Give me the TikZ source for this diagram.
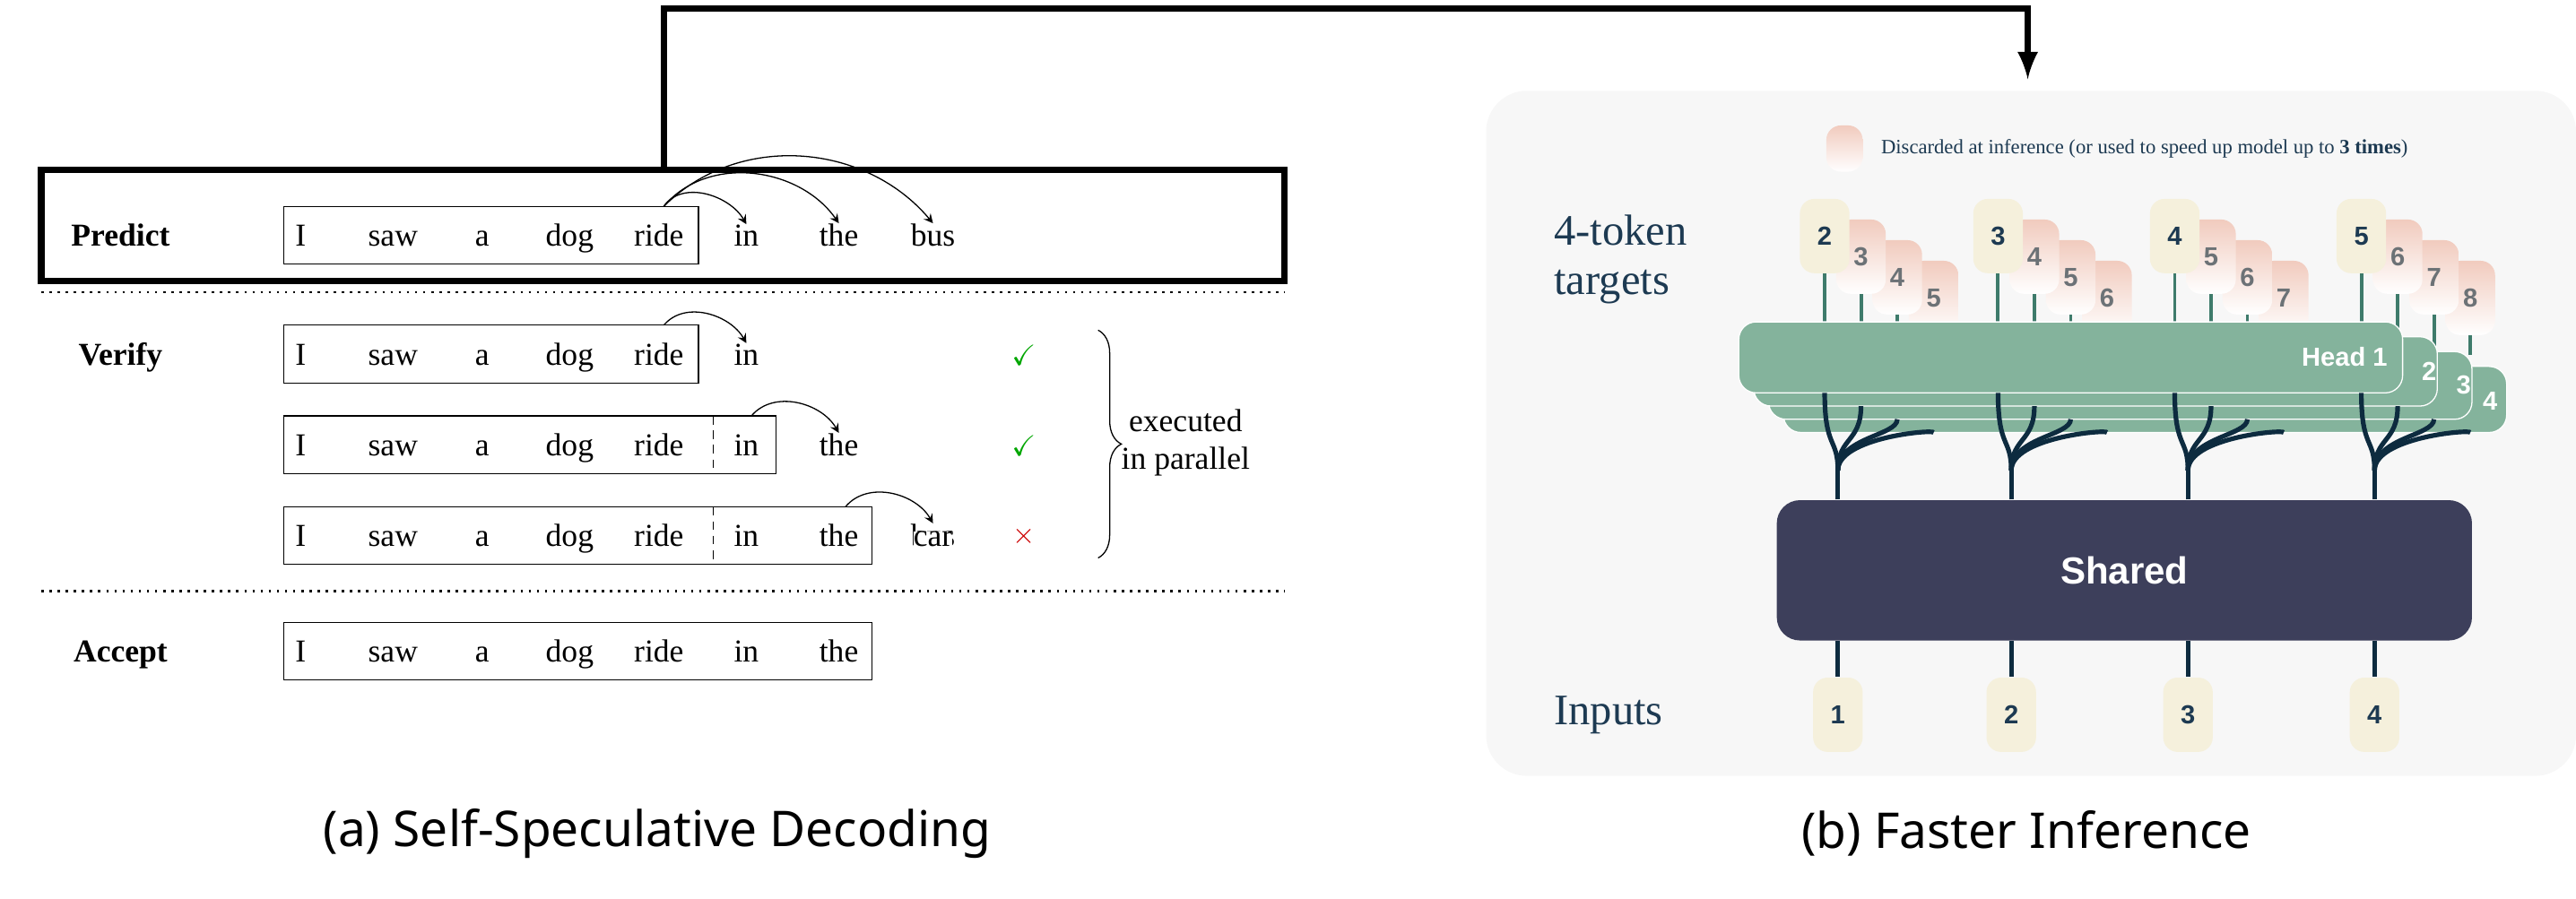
\documentclass[tikz,border=0pt]{standalone}
\usepackage{fontspec}
\setmainfont{Liberation Serif}
\newfontfamily\capfont{Noto Sans}
\newfontfamily\numfont{Liberation Sans}
\usepackage{amssymb}
\usetikzlibrary{arrows, positioning, decorations.pathreplacing}
\definecolor{headgreen}{HTML}{84B39C}
\definecolor{shareddark}{HTML}{3D3F5B}
\definecolor{wire}{HTML}{0D2B3F}
\definecolor{tealwire}{HTML}{3E7B6B}
\definecolor{cream}{HTML}{F5F0DC}
\definecolor{blush}{HTML}{F1CBBE}
\definecolor{panel}{HTML}{F7F7F7}
\definecolor{navy}{HTML}{1D3A52}
\tikzset{
    word/.style={font=\fontsize{11}{12}\selectfont, inner sep=0pt, anchor=base}, % one token of the sentence
    stage/.style={font=\bfseries\fontsize{11}{12}\selectfont, anchor=base},
    tok/.style={rounded corners=5pt, minimum width=30*0.02cm, minimum height=45*0.02cm, inner sep=0pt,
        font=\numfont\bfseries\fontsize{9}{9}\selectfont, text=navy},
    keep/.style={tok, fill=cream},
    drop/.style={tok, top color=blush, bottom color=white, text=gray!80!navy},
    head/.style={fill=headgreen, draw=white, line width=0.4pt, rounded corners=6pt},
    hop/.style={->, >=stealth, thin},
}
\begin{document}
\begin{tikzpicture}[x=0.02cm, y=-0.02cm]
\useasboundingbox (0,0) rectangle (1560,544.6);

% ---- (a) self-speculative decoding ----
\draw[line width=2.2pt] (25,103) rectangle (778,170);
\coordinate (boxtop) at (402,103);
\draw[dotted, thick] (25,177) -- (778,177);
\draw[dotted, thick] (25,358) -- (778,358);

\node[stage] (predict) at (73,149) {Predict};
\node[stage] (verify) at (73,221) {Verify};
\node[stage] (accept) at (73,401) {Accept};

\foreach \row/\y/\n in {p/149/8, a/221/6, b/276/7, c/331/8, d/401/7}{
    \foreach \w [count=\i] in {I, saw, a, dog, ride, in, the, bus}{
        \pgfmathtruncatemacro{\ok}{\i<=\n}
        \ifnum\ok=1
            \node[word] (\row\i) at ({int(0)+\i*0+(\i==1)*182+(\i==2)*238+(\i==3)*292+(\i==4)*345+(\i==5)*399+(\i==6)*452+(\i==7)*508+(\i==8)*565},\y) {\w};
        \fi
    }
}
\node[word] (c8x) at (565,331) {};
% boxes
\draw (172,125) rectangle (423,160);
\draw (172,197) rectangle (423,232);
\draw (172,252) rectangle (470,287);
\draw[densely dashed] (432,252) -- (432,287);
\draw (172,307) rectangle (528,342);
\draw[densely dashed] (432,307) -- (432,342);
\draw (172,377) rectangle (528,412);

\path[hop] (402,125) edge[out=55, in=120] (p6.north)
           (402,125) edge[out=50, in=125] (p7.north)
           (402,125) edge[out=45, in=130] (p8.north)
           (402,197) edge[out=50, in=120] (a6.north)
           (455,252) edge[out=50, in=120] (b7.north)
           (512,307) edge[out=50, in=120] (565,317);
\node[word, fill=white] at (565,331) {car};

\node[text=green!65!black] (ok1) at (620,215) {\checkmark};
\node[text=green!65!black] (ok2) at (620,270) {\checkmark};
\node[text=red!80!black] (no3) at (620,325) {$\times$};
\draw[decorate, decoration={brace, amplitude=8pt}] (665,200) -- (665,338);
\node[align=center, font=\fontsize{11}{13}\selectfont] (par) at (718,268) {executed\\in parallel};

\node[font=\capfont\fontsize{17}{20}\selectfont] (capa) at (398,505) {(a) Self-Speculative Decoding};

% ---- (b) faster inference ----
\fill[panel, rounded corners=14pt] (900,55) rectangle (1560,470);
\coordinate (panelin) at (1228,48);
\draw[line width=2.2pt, -latex] (boxtop) -- (402,5) -| (panelin);

\node[drop, minimum width=22*0.02cm, minimum height=28*0.02cm] (legend) at (1117,90) {};
\node[anchor=west, text=navy, font=\fontsize{7}{8}\selectfont] (legendtext) at (1133,90)
    {Discarded at inference (or used to speed up model up to \textbf{3 times})};
\node[anchor=west, align=left, text=navy, font=\fontsize{15}{17}\selectfont] (targets) at (935,157) {4-token\\targets};
\node[anchor=west, text=navy, font=\fontsize{15}{17}\selectfont] (inputs) at (935,433) {Inputs};

% target tokens and their wires
\foreach \g/\x in {1/1105, 2/1210, 3/1317, 4/1430}{
    \foreach \k in {3,2,1}{
        \draw[tealwire, line width=1.2pt] (\x+22*\k,143+12.5*\k) -- (\x+22*\k,215);
        \pgfmathtruncatemacro{\v}{\g+1+\k}
        \node[drop] (t\g\k) at (\x+22*\k,143+12.5*\k) {\v};
    }
    \draw[tealwire, line width=1.2pt] (\x,143) -- (\x,215);
    \pgfmathtruncatemacro{\v}{\g+1}
    \node[keep] (t\g0) at (\x,143) {\v};
}

% stacked heads
\foreach \k in {4,3,2,1}{
    \draw[head] (1053+9*\k-9,195+9*\k-9) rectangle (1455+21*\k-21,238+8*\k-8);
}
\node[text=white, font=\numfont\bfseries\fontsize{9}{9}\selectfont, anchor=east] (h1) at (1452,216) {Head 1};
\node[text=white, font=\numfont\bfseries\fontsize{9}{9}\selectfont] (h2) at (1471,225) {2};
\node[text=white, font=\numfont\bfseries\fontsize{9}{9}\selectfont] (h3) at (1492,233) {3};
\node[text=white, font=\numfont\bfseries\fontsize{9}{9}\selectfont] (h4) at (1508,243) {4};

% shared trunk
\node[fill=shareddark, rounded corners=8pt, minimum width=421*0.02cm, minimum height=85*0.02cm,
      text=white, font=\numfont\bfseries\fontsize{13}{13}\selectfont] (shared) at (1286.5,345.5) {Shared};

\foreach \g/\x in {1/1105, 2/1210, 3/1317, 4/1430}{
    \coordinate (fork\g) at (\x+8,285);
    \draw[wire, line width=1.6pt] (shared.north -| fork\g) -- (fork\g);
    \foreach \k in {0,1,2,3}{
        \draw[wire, line width=1.6pt] (fork\g) .. controls (\x+8,265) and (\x+22*\k,272-\k*4) .. (\x+22*\k,238+8*\k);
    }
    \node[keep] (in\g) at (\x+8,433) {\g};
    \draw[wire, line width=1.6pt] (shared.south -| in\g) -- (in\g);
}

\node[font=\capfont\fontsize{17}{20}\selectfont] (capb) at (1227,505) {(b) Faster Inference};
\end{tikzpicture}
\end{document}
